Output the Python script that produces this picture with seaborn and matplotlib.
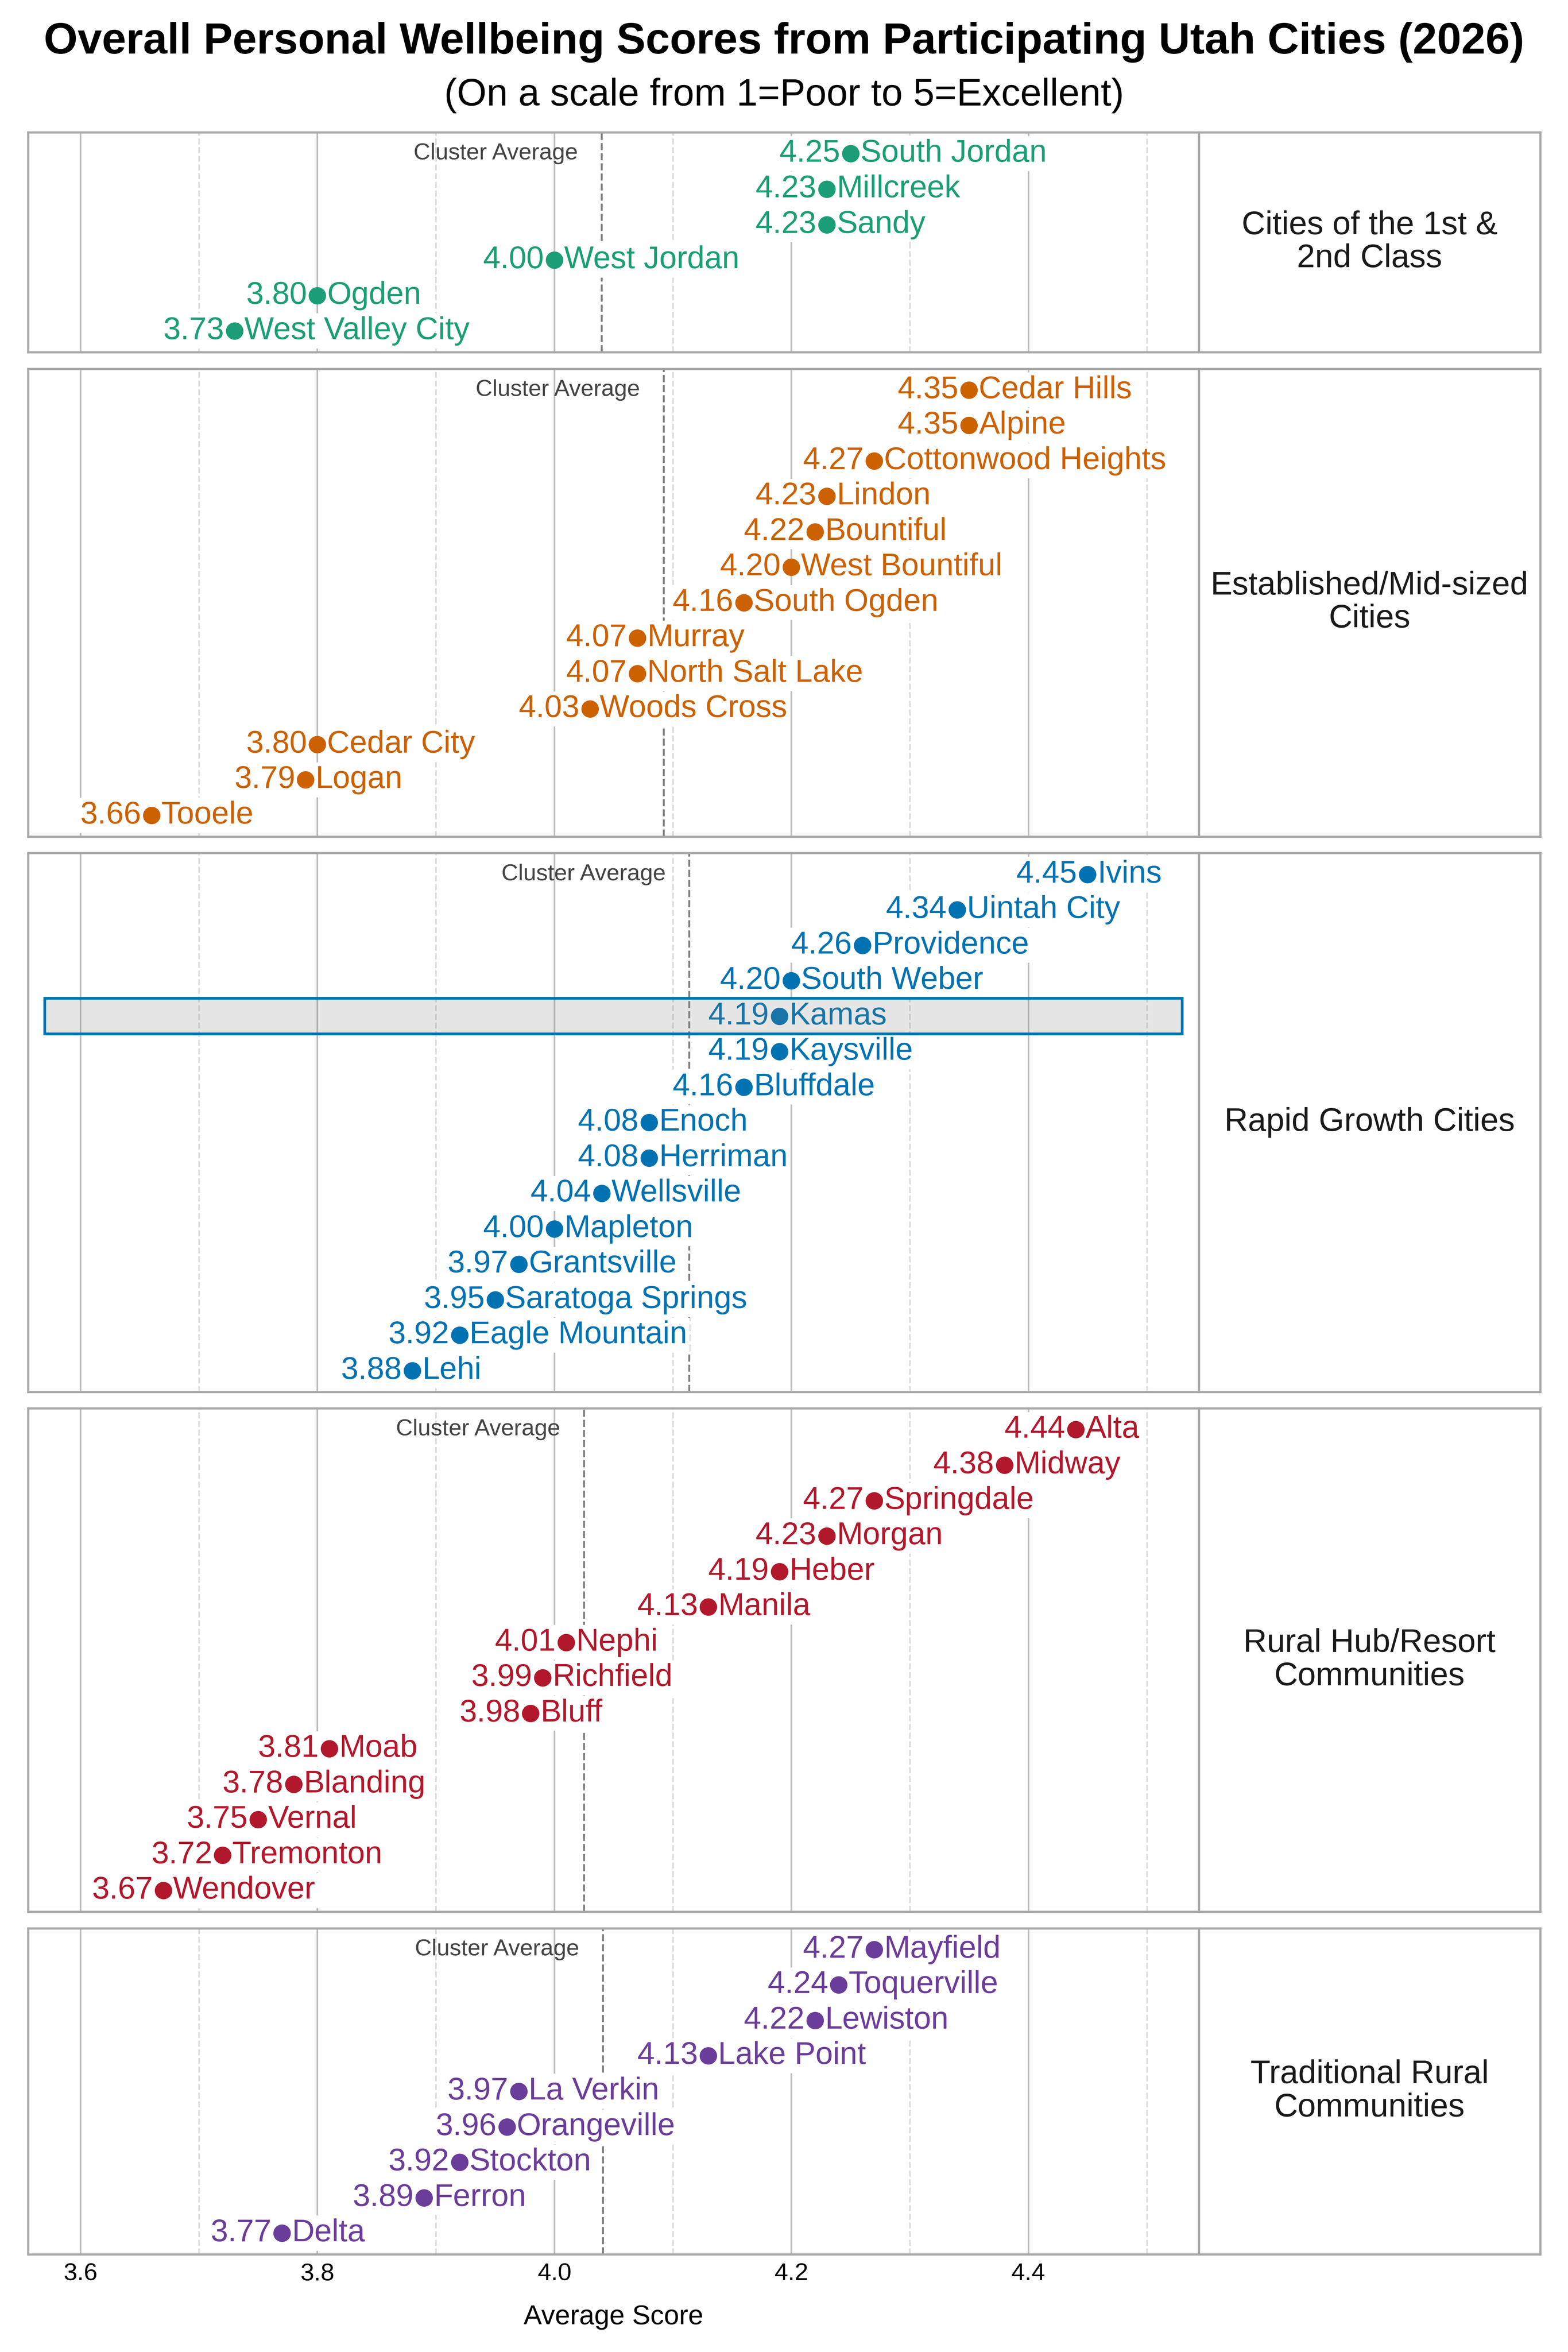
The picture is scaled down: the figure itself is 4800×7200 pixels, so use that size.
import numpy as np
import pandas as pd
import matplotlib
matplotlib.use("Agg")
import matplotlib.pyplot as plt
import seaborn as sns
from matplotlib.patches import Rectangle

# ---- data ----
cluster_labels = [
    "Cities of the 1st &\n2nd Class",
    "Established/Mid-sized\nCities",
    "Rapid Growth Cities",
    "Rural Hub/Resort\nCommunities",
    "Traditional Rural\nCommunities",
]
cluster_colors = ["#1b9e77", "#cc6100", "#0072b2", "#b2182b", "#6a3d9a"]

cities_1 = ["South Jordan", "Millcreek", "Sandy", "West Jordan", "Ogden", "West Valley City"]
scores_1 = [4.25, 4.23, 4.23, 4.00, 3.80, 3.73]

cities_2 = ["Cedar Hills", "Alpine", "Cottonwood Heights", "Lindon", "Bountiful",
            "West Bountiful", "South Ogden", "Murray", "North Salt Lake", "Woods Cross",
            "Cedar City", "Logan", "Tooele"]
scores_2 = [4.35, 4.35, 4.27, 4.23, 4.22, 4.20, 4.16, 4.07, 4.07, 4.03, 3.80, 3.79, 3.66]

cities_3 = ["Ivins", "Uintah City", "Providence", "South Weber", "Kamas", "Kaysville",
            "Bluffdale", "Enoch", "Herriman", "Wellsville", "Mapleton", "Grantsville",
            "Saratoga Springs", "Eagle Mountain", "Lehi"]
scores_3 = [4.45, 4.34, 4.26, 4.20, 4.19, 4.19, 4.16, 4.08, 4.08, 4.04, 4.00, 3.97,
            3.95, 3.92, 3.88]

cities_4 = ["Alta", "Midway", "Springdale", "Morgan", "Heber", "Manila", "Nephi",
            "Richfield", "Bluff", "Moab", "Blanding", "Vernal", "Tremonton", "Wendover"]
scores_4 = [4.44, 4.38, 4.27, 4.23, 4.19, 4.13, 4.01, 3.99, 3.98, 3.81, 3.78, 3.75,
            3.72, 3.67]

cities_5 = ["Mayfield", "Toquerville", "Lewiston", "Lake Point", "La Verkin",
            "Orangeville", "Stockton", "Ferron", "Delta"]
scores_5 = [4.27, 4.24, 4.22, 4.13, 3.97, 3.96, 3.92, 3.89, 3.77]

all_cities = [cities_1, cities_2, cities_3, cities_4, cities_5]
all_scores = [scores_1, scores_2, scores_3, scores_4, scores_5]

highlight_city = "Kamas"
major_ticks = [3.6, 3.8, 4.0, 4.2, 4.4]
minor_ticks = [3.7, 3.9, 4.1, 4.3, 4.5]
x_min, x_max = 3.556, 4.544

# ---- style ----
sns.set_theme(style="white")
plt.rcParams['font.family'] = ['Liberation Sans', 'DejaVu Sans']
plt.rcParams['text.color'] = 'black'
plt.rcParams['axes.labelcolor'] = 'black'
plt.rcParams['xtick.color'] = 'black'

fig = plt.figure(figsize=(8, 12))
heights = [len(c) + 0.2 for c in all_cities]
gs = fig.add_gridspec(5, 2, height_ratios=heights, width_ratios=[3584, 1045],
                      left=0.018, right=0.9823, top=0.9437, bottom=0.0415,
                      hspace=0.04, wspace=0)

spine_col = "#a8a8a8"

for r in range(5):
    ax = fig.add_subplot(gs[r, 0])
    lab_ax = fig.add_subplot(gs[r, 1])
    col = cluster_colors[r]
    df = pd.DataFrame({"city": all_cities[r], "score": all_scores[r]})
    df["pos"] = np.arange(len(df))
    n = len(df)

    sns.scatterplot(data=df, x="score", y="pos", color=col, s=36, linewidth=0.4,
                    edgecolor=col, ax=ax, zorder=4, legend=False)

    for _, row in df.iterrows():
        ax.annotate(f"{row['score']:.2f}", xy=(row["score"], row["pos"]),
                    xytext=(-3.8, 0), textcoords="offset points",
                    ha="right", va="center", fontsize=11.5, color=col,
                    bbox=dict(facecolor="white", edgecolor="none", pad=1.0), zorder=3)
        ax.annotate(row["city"], xy=(row["score"], row["pos"]),
                    xytext=(3.6, 0), textcoords="offset points",
                    ha="left", va="center", fontsize=11.5, color=col,
                    bbox=dict(facecolor="white", edgecolor="none", pad=1.0), zorder=3)

    # cluster average
    avg = df["score"].mean()
    ax.axvline(avg, color="#808080", ls="--", lw=0.7, zorder=1)
    ax.text(avg - 0.02, 0, "Cluster Average", ha="right", va="center",
            fontsize=8.5, color="#444444", zorder=2)

    # highlighted city
    if highlight_city in df["city"].values:
        hp = df.loc[df["city"] == highlight_city, "pos"].iloc[0]
        ax.add_patch(Rectangle((x_min + 0.014, hp - 0.5), (x_max - x_min) - 0.028, 1,
                               facecolor=(0.5, 0.5, 0.5, 0.2), edgecolor=col,
                               lw=1.0, zorder=6))

    ax.set_xlim(x_min, x_max)
    ax.set_ylim(n - 1 + 0.6, -0.6)
    ax.set_xticks(major_ticks)
    ax.set_xticks(minor_ticks, minor=True)
    ax.set_yticks([])
    ax.set_ylabel("")
    ax.grid(axis="x", which="major", color="#bdbdbd", lw=0.6)
    ax.grid(axis="x", which="minor", color="#dddddd", lw=0.6, ls="--")
    ax.set_axisbelow(True)
    ax.tick_params(axis="x", which="both", length=0, pad=3, labelsize=9)
    if r < 4:
        ax.set_xticklabels([])
        ax.set_xlabel("")
    else:
        ax.set_xticklabels([f"{t:.1f}" for t in major_ticks])
        ax.set_xlabel("Average Score", fontsize=10, labelpad=7)

    for sp in list(ax.spines.values()) + list(lab_ax.spines.values()):
        sp.set_color(spine_col)
        sp.set_linewidth(0.8)
        sp.set_visible(True)

    lab_ax.set_xticks([])
    lab_ax.set_yticks([])
    lab_ax.text(0.5, 0.5, cluster_labels[r], ha="center", va="center",
                fontsize=12, color="#1a1a1a", linespacing=1.1,
                transform=lab_ax.transAxes)

fig.text(0.5, 0.982, "Overall Personal Wellbeing Scores from Participating Utah Cities (2026)",
         ha="center", va="center", fontsize=16, fontweight="bold")
fig.text(0.5, 0.9594, "(On a scale from 1=Poor to 5=Excellent)",
         ha="center", va="center", fontsize=14)

fig.savefig("out.png", dpi=600)
